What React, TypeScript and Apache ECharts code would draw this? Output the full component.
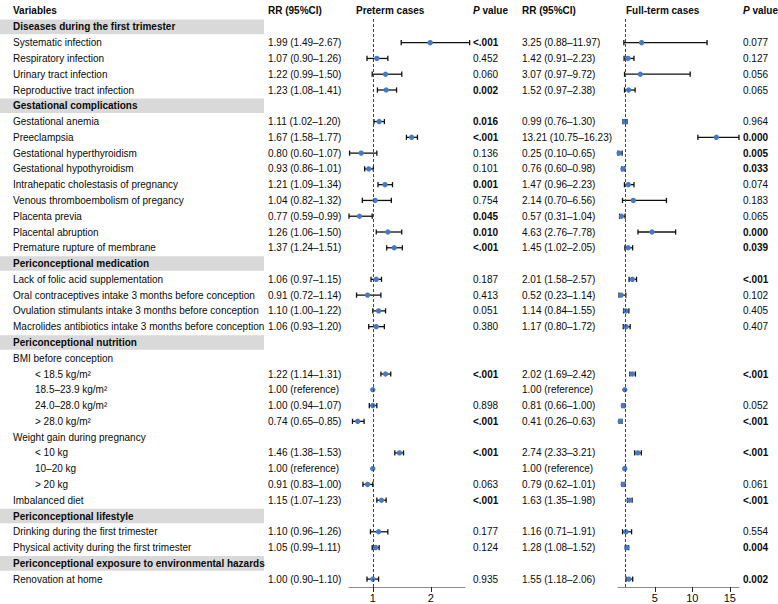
import React, { useEffect, useRef } from "react";
import * as echarts from "echarts";

const FONT = "'Liberation Sans', Arial, Helvetica, sans-serif";

const rowLabels = [
  "Diseases during the first trimester",
  "Systematic infection",
  "Respiratory infection",
  "Urinary tract infection",
  "Reproductive tract infection",
  "Gestational complications",
  "Gestational anemia",
  "Preeclampsia",
  "Gestational hyperthyroidism",
  "Gestational hypothyroidism",
  "Intrahepatic cholestasis of pregnancy",
  "Venous thromboembolism of pregancy",
  "Placenta previa",
  "Placental abruption",
  "Premature rupture of membrane",
  "Periconceptional medication",
  "Lack of folic acid supplementation",
  "Oral contraceptives intake 3 months before conception",
  "Ovulation stimulants intake 3 months before conception",
  "Macrolides antibiotics intake 3 months before conception",
  "Periconceptional nutrition",
  "BMI before conception",
  "< 18.5 kg/m²",
  "18.5–23.9 kg/m²",
  "24.0–28.0 kg/m²",
  "> 28.0 kg/m²",
  "Weight gain during pregnancy",
  "< 10 kg",
  "10–20 kg",
  "> 20 kg",
  "Imbalanced diet",
  "Periconceptional lifestyle",
  "Drinking during the first trimester",
  "Physical activity during the first trimester",
  "Periconceptional exposure to environmental hazards",
  "Renovation at home",
];

// S = section, I = item, G = group header, C = indented child
const rowKinds = [
  "S", "I", "I", "I", "I",
  "S", "I", "I", "I", "I", "I", "I", "I", "I", "I",
  "S", "I", "I", "I", "I",
  "S", "G", "C", "C", "C", "C", "G", "C", "C", "C", "I",
  "S", "I", "I",
  "S", "I",
];

const preRR = [null, 1.99, 1.07, 1.22, 1.23, null, 1.11, 1.67, 0.80, 0.93, 1.21, 1.04, 0.77, 1.26, 1.37, null, 1.06, 0.91, 1.10, 1.06, null, null, 1.22, 1.00, 1.00, 0.74, null, 1.46, 1.00, 0.91, 1.15, null, 1.10, 1.05, null, 1.00];
const preLo = [null, 1.49, 0.90, 0.99, 1.08, null, 1.02, 1.58, 0.60, 0.86, 1.09, 0.82, 0.59, 1.06, 1.24, null, 0.97, 0.72, 1.00, 0.93, null, null, 1.14, null, 0.94, 0.65, null, 1.38, null, 0.83, 1.07, null, 0.96, 0.99, null, 0.90];
const preHi = [null, 2.67, 1.26, 1.50, 1.41, null, 1.20, 1.77, 1.07, 1.01, 1.34, 1.32, 0.99, 1.50, 1.51, null, 1.15, 1.14, 1.22, 1.20, null, null, 1.31, null, 1.07, 0.85, null, 1.53, null, 1.00, 1.23, null, 1.26, 1.11, null, 1.10];
const preP = ["", "<.001", "0.452", "0.060", "0.002", "", "0.016", "<.001", "0.136", "0.101", "0.001", "0.754", "0.045", "0.010", "<.001", "", "0.187", "0.413", "0.051", "0.380", "", "", "<.001", "", "0.898", "<.001", "", "<.001", "", "0.063", "<.001", "", "0.177", "0.124", "", "0.935"];

const fullRR = [null, 3.25, 1.42, 3.07, 1.52, null, 0.99, 13.21, 0.25, 0.76, 1.47, 2.14, 0.57, 4.63, 1.45, null, 2.01, 0.52, 1.14, 1.17, null, null, 2.02, 1.00, 0.81, 0.41, null, 2.74, 1.00, 0.79, 1.63, null, 1.16, 1.28, null, 1.55];
const fullLo = [null, 0.88, 0.91, 0.97, 0.97, null, 0.76, 10.75, 0.10, 0.60, 0.96, 0.70, 0.31, 2.76, 1.02, null, 1.58, 0.23, 0.84, 0.80, null, null, 1.69, null, 0.66, 0.26, null, 2.33, null, 0.62, 1.35, null, 0.71, 1.08, null, 1.18];
const fullHi = [null, 11.97, 2.23, 9.72, 2.38, null, 1.30, 16.23, 0.65, 0.98, 2.23, 6.56, 1.04, 7.78, 2.05, null, 2.57, 1.14, 1.55, 1.72, null, null, 2.42, null, 1.00, 0.63, null, 3.21, null, 1.01, 1.98, null, 1.91, 1.52, null, 2.06];
const fullP = ["", "0.077", "0.127", "0.056", "0.065", "", "0.964", "0.000", "0.005", "0.033", "0.074", "0.183", "0.065", "0.000", "0.039", "", "<.001", "0.102", "0.405", "0.407", "", "", "<.001", "", "0.052", "<.001", "", "<.001", "", "0.061", "<.001", "", "0.554", "0.004", "", "0.002"];

const preTicks = [1, 2];
const fullTicks = [5, 10, 15];

const headers = [
  { text: "Variables", x: 13 },
  { text: "RR (95%CI)", x: 268 },
  { text: "Preterm cases", x: 356 },
  { text: "{i|P}{b| value}", x: 473 },
  { text: "RR (95%CI)", x: 522 },
  { text: "Full-term cases", x: 626 },
  { text: "{i|P}{b| value}", x: 743 },
];

function rrText(rr: number | null, lo: number | null, hi: number | null) {
  if (rr == null) return "";
  if (lo == null || hi == null) return `${rr.toFixed(2)} (reference)`;
  return `${rr.toFixed(2)} (${lo.toFixed(2)}–${hi.toFixed(2)})`;
}
function isSig(p: string) {
  if (!p) return false;
  if (p.startsWith("<")) return true;
  return parseFloat(p) < 0.05;
}

const GRID_TOP = 19;
const GRID_H = 568;
const POINT = "#4a78c2";
const INK = "#0a0a0a";

export default function App() {
  const ref = useRef<HTMLDivElement>(null);
  useEffect(() => {
    document.body.style.margin = "0";
    const chart = echarts.init(ref.current!, null, { renderer: "svg" });
    const rowIdx = rowLabels.map((_, i) => String(i));

    const textStyle = (text: string, x: number, y: number, bold: boolean) => ({
      type: "text",
      style: {
        text,
        x,
        y,
        fill: INK,
        fontSize: 10,
        fontFamily: FONT,
        fontWeight: bold ? "bold" : "normal",
        align: "left",
        verticalAlign: "middle",
      },
    });

    const tableRender = (params: any, api: any) => {
      const i = params.dataIndex;
      const y = api.coord([0, i])[1];
      const kind = rowKinds[i];
      const children: any[] = [];
      if (kind === "S") {
        children.push({
          type: "rect",
          shape: { x: 0, y: y - 7.3, width: 264, height: 14.6 },
          style: { fill: "#d9d9d9" },
        });
        children.push(textStyle(rowLabels[i], 13, y, true));
      } else {
        children.push(textStyle(rowLabels[i], kind === "C" ? 35 : 13, y, false));
        const t1 = rrText(preRR[i], preLo[i], preHi[i]);
        if (t1) children.push(textStyle(t1, 268, y, false));
        if (preP[i]) children.push(textStyle(preP[i], 473, y, isSig(preP[i])));
        const t2 = rrText(fullRR[i], fullLo[i], fullHi[i]);
        if (t2) children.push(textStyle(t2, 522, y, false));
        if (fullP[i]) children.push(textStyle(fullP[i], 743, y, isSig(fullP[i])));
      }
      return { type: "group", children };
    };

    const forestRender = (params: any, api: any) => {
      const idx = api.value(0);
      const rr = api.value(1);
      const lo = api.value(2);
      const hi = api.value(3);
      const c = api.coord([rr, idx]);
      const children: any[] = [];
      const ls = { stroke: "#111", lineWidth: 1.3 };
      if (!isNaN(lo) && !isNaN(hi) && lo != null && hi != null) {
        const a = api.coord([lo, idx]);
        const b = api.coord([hi, idx]);
        children.push({ type: "line", shape: { x1: a[0], y1: c[1], x2: b[0], y2: c[1] }, style: ls });
        children.push({ type: "line", shape: { x1: a[0], y1: c[1] - 2.6, x2: a[0], y2: c[1] + 2.6 }, style: ls });
        children.push({ type: "line", shape: { x1: b[0], y1: c[1] - 2.6, x2: b[0], y2: c[1] + 2.6 }, style: ls });
      }
      children.push({ type: "circle", shape: { cx: c[0], cy: c[1], r: 2.7 }, style: { fill: POINT } });
      return { type: "group", children };
    };

    const buildForest = (rr: (number | null)[], lo: (number | null)[], hi: (number | null)[]) =>
      rr
        .map((v, i) => (v == null ? null : [i, v, lo[i] == null ? NaN : lo[i], hi[i] == null ? NaN : hi[i]]))
        .filter((d) => d != null);

    const xAxisCommon = (gridIndex: number, min: number, max: number, ticks: number[]) => ({
      type: "value",
      gridIndex,
      min,
      max,
      axisLine: { show: true, onZero: false, lineStyle: { color: "#8c8c8c", width: 1 } },
      axisTick: { show: true, customValues: ticks, length: 5, lineStyle: { color: "#222", width: 1 } },
      axisLabel: { show: true, customValues: ticks, fontSize: 11, color: INK, fontFamily: FONT, margin: 5 },
      splitLine: { show: false },
    });

    const yAxisCommon = (gridIndex: number) => ({
      type: "category",
      gridIndex,
      data: rowIdx,
      inverse: true,
      show: false,
    });

    const markLine = {
      silent: true,
      symbol: "none",
      label: { show: false },
      lineStyle: { type: [3, 2], color: "#444", width: 1 },
      data: [{ xAxis: 1 }],
    };

    chart.setOption({
      animation: false,
      backgroundColor: "#fff",
      textStyle: { fontFamily: FONT },
      grid: [
        { left: 0, top: GRID_TOP, width: 778, height: GRID_H },
        { left: 349, top: GRID_TOP, width: 116, height: GRID_H },
        { left: 618, top: GRID_TOP, width: 121, height: GRID_H },
      ],
      xAxis: [
        { type: "value", gridIndex: 0, min: 0, max: 778, show: false },
        xAxisCommon(1, 0.59, 2.59, preTicks),
        xAxisCommon(2, 0.1, 16.23, fullTicks),
      ],
      yAxis: [yAxisCommon(0), yAxisCommon(1), yAxisCommon(2)],
      graphic: headers.map((h) => ({
        type: "text",
        x: h.x,
        y: 10,
        style: {
          text: h.text,
          fill: INK,
          fontSize: 10,
          fontWeight: "bold",
          fontFamily: FONT,
          verticalAlign: "middle",
          rich: {
            i: { fontStyle: "italic", fontWeight: "bold", fontSize: 10, fontFamily: FONT, fill: INK },
            b: { fontWeight: "bold", fontSize: 10, fontFamily: FONT, fill: INK },
          },
        },
      })),
      series: [
        {
          type: "custom",
          xAxisIndex: 0,
          yAxisIndex: 0,
          clip: false,
          silent: true,
          renderItem: tableRender,
          data: rowLabels.map((_, i) => [0, i]),
          encode: { x: 0, y: 1 },
          z: 1,
        },
        {
          type: "custom",
          xAxisIndex: 1,
          yAxisIndex: 1,
          clip: false,
          silent: true,
          renderItem: forestRender,
          data: buildForest(preRR, preLo, preHi),
          encode: { x: [1, 2, 3], y: 0 },
          markLine,
          z: 3,
        },
        {
          type: "custom",
          xAxisIndex: 2,
          yAxisIndex: 2,
          clip: false,
          silent: true,
          renderItem: forestRender,
          data: buildForest(fullRR, fullLo, fullHi),
          encode: { x: [1, 2, 3], y: 0 },
          markLine,
          z: 3,
        },
      ],
    });
    return () => chart.dispose();
  }, []);
  return <div ref={ref} style={{ width: 778, height: 604 }} />;
}
